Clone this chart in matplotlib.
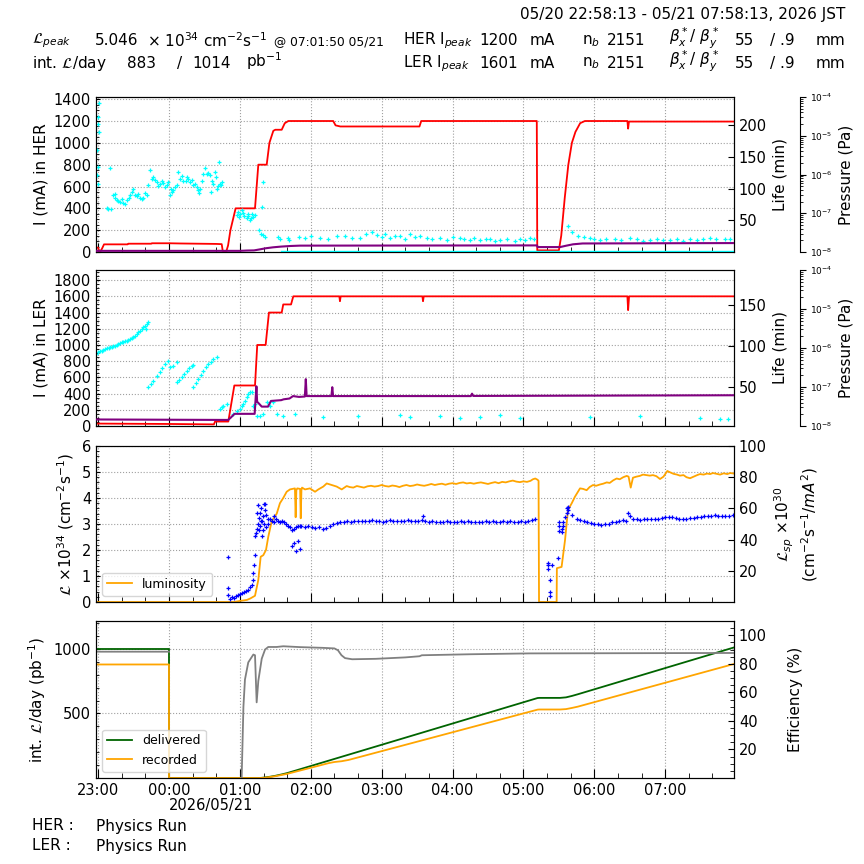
import numpy as np
import matplotlib
matplotlib.use("Agg")
import matplotlib.pyplot as plt
from matplotlib.ticker import MultipleLocator, AutoMinorLocator, FixedLocator
import matplotlib.transforms as mtransforms

# ---------------- time frame (minutes relative to 2026/05/21 00:00 JST) ----------------
T_START, T_END = -61.78, 478.22
HOUR_TICKS = [-1, 0, 1, 2, 3, 4, 5, 6, 7]
HOUR_LABELS = ["23:00", "00:00", "01:00", "02:00", "03:00", "04:00", "05:00", "06:00", "07:00"]
DATE_LABEL = "2026/05/21"

# ---------------- panel 1 : HER ----------------
HER_CUR = [(-61.78, 42), (-60.0, 40), (-59.0, 5), (-58.2, 2), (-56.5, 35), (-55.0, 70), (-35.0, 70),
           (-34.5, 76), (-15, 76), (-14.5, 80), (0, 80), (10, 78), (40, 74), (44.6, 72), (45.5, 10),
           (47, 5), (48.5, 5), (50, 60), (52, 200), (56.4, 400), (72.8, 400), (75.6, 800), (82.7, 800),
           (85, 1000), (88.3, 1110), (90, 1120), (95.4, 1120), (98, 1180), (101, 1200), (139, 1200),
           (141, 1160), (145, 1150), (212, 1150), (213.5, 1200), (311.3, 1200), (311.7, 15), (330, 15),
           (332, 150), (335, 500), (338, 800), (341, 1000), (344, 1100), (348, 1180), (352, 1200),
           (388, 1200), (388.6, 1130), (389.3, 1195), (478.22, 1195)]
HER_LIFE = [(-61.2, 121), (-60.7, 161), (-60.3, 108), (-60.3, 213), (-60.1, 135), (-59.8, 203),
            (-59.5, 190), (-59.0, 236), (-50.0, 132), (-52.7, 70), (-51.4, 68), (-49.1, 68),
            (-47.1, 90), (-45.7, 85), (-44.3, 82), (-41.5, 79), (-38.7, 78), (-35.8, 82), (-33.0, 90),
            (-31.6, 95), (-30.2, 100), (-28.8, 90), (-27.1, 88), (-24.5, 85), (-21.8, 86), (-18.9, 90),
            (-17.5, 106), (-16.1, 129), (-14.6, 116), (-13.3, 119), (-10.4, 111), (-7.6, 108), (-4.8, 109),
            (-1.9, 106), (-0.6, 110), (0.8, 90), (2.3, 95), (3.6, 98), (6.5, 106), (7.9, 127), (9.3, 116),
            (12.1, 113), (15.0, 119), (17.8, 111), (19.2, 114), (20.6, 106), (23.4, 103), (25.6, 93),
            (27.7, 113), (29.0, 124), (30.5, 132), (31.9, 124), (33.3, 125), (34.7, 121), (35.3, 95),
            (37.5, 108), (38.9, 126), (40.4, 100), (41.7, 104), (42.6, 143), (43.2, 108), (44.6, 111),
            (-46, 92), (-43, 80), (-40, 84), (-37, 76), (-34, 86), (-26, 92), (-23, 83), (-20, 94),
            (-12, 114), (-9, 105), (-6, 112), (-3, 102), (1.5, 100), (5, 102), (11, 120), (14, 112),
            (16.5, 116), (22, 108), (24.5, 98), (26.5, 100), (36.5, 112), (39.5, 118), (43.8, 106),
            (57.3, 58), (58.7, 64), (60.1, 60), (61.5, 66), (62.9, 62), (65.8, 53), (67.1, 57), (68.6, 50),
            (70.0, 60), (71.4, 56), (72.8, 58), (76.4, 35), (77.6, 29), (78.5, 71), (79.8, 111), (79.8, 27),
            (81.3, 24), (92.5, 24), (93.9, 20), (101.0, 21.6), (101.8, 19), (59.5, 55), (63.5, 57),
            (66.5, 60), (69, 54),
            (110, 24), (115, 22), (120, 25), (127.8, 22), (135, 20), (142, 26), (149.0, 25), (155, 22),
            (161.7, 22), (167, 28), (171.8, 31.5), (176, 27), (180, 24), (183, 29), (187.1, 22), (191, 26),
            (195.5, 25), (200, 21), (204.0, 28), (208, 24), (212.4, 25), (218, 22), (223, 20), (229.4, 22),
            (235, 19), (240, 23), (246.3, 22), (250, 20), (254.8, 19), (258, 22), (263.2, 19), (268, 21),
            (271.7, 20.5), (276, 18), (280.2, 19), (286, 21), (292.9, 17), (297, 20), (301.3, 19),
            (305.6, 22), (309, 20), (337.7, 41), (341.1, 31.5), (346.2, 25), (351, 23), (356.3, 22),
            (360, 20), (364.8, 19), (370, 21), (377.5, 20.5), (383, 19), (390.2, 22), (396, 20), (401, 18),
            (407.1, 19), (413, 21), (418, 19), (424.0, 19), (430, 20), (435, 18), (441.0, 20.5), (447, 19),
            (452, 21), (457.9, 22), (463, 20), (470.6, 20.5), (475, 21)]
HER_LIFE_FLOOR = [(95, 1.5), (478.22, 1.5)]
HER_PRES = [(-61.78, 1.07e-8), (60, 1.07e-8), (66, 1.09e-8), (72, 1.10e-8), (77, 1.17e-8), (82, 1.25e-8),
            (88, 1.32e-8), (95, 1.38e-8), (103, 1.43e-8), (111, 1.46e-8), (311.5, 1.48e-8), (312, 1.34e-8),
            (331, 1.34e-8), (336, 1.45e-8), (342, 1.58e-8), (350, 1.66e-8), (478.22, 1.70e-8)]

# ---------------- panel 2 : LER ----------------
LER_CUR = [(-61.78, 30), (0, 25), (38, 20), (39, 55), (50.2, 55), (55.3, 500), (72.8, 500), (74.7, 1000),
           (81.8, 1000), (84.6, 1400), (95.4, 1400), (96.7, 1500), (103.3, 1500), (105.2, 1600),
           (144.2, 1600), (144.7, 1540), (145.3, 1600), (214.5, 1600), (215, 1540), (215.6, 1600),
           (388, 1600), (388.6, 1430), (389.4, 1600), (478.22, 1600)]
LER_LIFE = [(-61.8, 90.3), (-58.4, 94.3), (-55.6, 95.5), (-52.7, 97.2), (-49.9, 98.5), (-47.1, 99.6),
            (-44.3, 101.5), (-41.5, 103.6), (-38.7, 105), (-35.8, 106.4), (-33.0, 108.5), (-30.2, 110.5),
            (-27.3, 114.5), (-24.5, 118.5), (-21.8, 122.6), (-19.5, 120.6), (-17.5, 128.7),
            (-60.5, 92.5), (-57, 93.5), (-54, 96.5), (-51, 98), (-48.5, 99), (-46, 100.5), (-43, 102),
            (-40, 104.5), (-37, 105.5), (-34.5, 107.5), (-31.5, 109.5), (-29, 112), (-26, 116.5),
            (-23, 120), (-20.5, 124), (-18.5, 126),
            (-17.5, 50), (-15.4, 54), (-13.3, 58), (-10.4, 63), (-7.6, 68), (-5.5, 73), (-3.4, 78),
            (-0.6, 82), (0.8, 74), (3.6, 76), (6.5, 80),
            (6.5, 56), (8.5, 59), (10.7, 62), (12.7, 66), (15.0, 70), (16.9, 73), (19.2, 76), (20.6, 77),
            (20.6, 50), (22.7, 55), (24.8, 60), (26.9, 65), (29.0, 70), (31.1, 74), (33.3, 78), (35.4, 81),
            (37.5, 84), (40.4, 86),
            (43.2, 23.7), (44.6, 25.5), (45.9, 27.7), (48.8, 29.4),
            (54.4, 17.7), (57.3, 21.7), (60.1, 23.7), (61.5, 27.7), (62.9, 30), (64.3, 33.8), (65.8, 38),
            (67.1, 41.9), (68.6, 43.9), (70.0, 44), (71.4, 27.7), (72.8, 30), (74.2, 15.6), (77.0, 15.6),
            (79.8, 17.7), (82.7, 31.8), (85.5, 27.7), (88.3, 32.6), (91.2, 17.7), (96.7, 15.6),
            (106.6, 17.7), (130, 14), (160, 15), (195.5, 16.5), (204.0, 14), (229.4, 15.2), (246.3, 12.8),
            (263.2, 14), (280.2, 16.5), (297.1, 12.8), (356.3, 14), (398.7, 15.2), (449.4, 12.8),
            (466.4, 11.6), (473.1, 11.6)]
LER_PRES = [(-61.78, 1.47e-8), (50, 1.43e-8), (52, 1.61e-8), (55.5, 2.05e-8), (72.5, 2.05e-8),
            (74.0, 1.04e-7), (74.6, 4.19e-8), (76, 3.80e-8), (78.5, 3.14e-8), (83.8, 3.14e-8),
            (86.3, 4.39e-8), (95, 4.60e-8), (97, 4.83e-8), (102, 5.07e-8), (105, 5.85e-8), (110, 5.57e-8),
            (115, 5.70e-8), (115.8, 1.59e-7), (116.5, 5.85e-8), (137.5, 5.85e-8), (138.2, 9.89e-8),
            (138.9, 5.85e-8), (255.5, 5.85e-8), (256.5, 6.75e-8), (257.5, 5.9e-8), (478.22, 6.14e-8)]

# ---------------- panel 3 : luminosity ----------------
LUMI = [(-61.78, 0), (55, 0), (60, 0.04), (66, 0.08), (69, 0.14), (72.8, 0.24), (75.6, 0.85), (77.6, 1.74),
        (79.8, 1.8), (82.1, 2.0), (84.0, 2.5), (86.9, 3.1), (89, 3.25), (91.2, 3.4), (93.9, 3.8),
        (96.7, 4.0), (99.6, 4.24), (102.4, 4.33), (106.6, 4.37), (107.2, 3.26), (107.8, 4.3),
        (108.6, 4.37), (111.0, 4.35), (111.5, 3.22), (112.1, 4.3), (112.6, 4.4), (115.1, 4.33),
        (119.3, 4.37), (123.6, 4.24), (126.4, 4.33), (130.6, 4.44), (133.5, 4.56), (136.3, 4.52),
        (141.9, 4.44), (146.2, 4.33), (150.4, 4.46), (153, 4.42), (156, 4.40), (159, 4.46), (162, 4.43),
        (165, 4.40), (168, 4.45), (171, 4.47), (174, 4.44), (177, 4.46), (180, 4.50), (183, 4.46),
        (186, 4.44), (189, 4.48), (192, 4.46), (195, 4.42), (198, 4.47), (201, 4.50), (204, 4.46),
        (207, 4.48), (210, 4.52), (213, 4.49), (216, 4.47), (219, 4.50), (222, 4.54), (225, 4.50),
        (228, 4.53), (231, 4.55), (234, 4.51), (237, 4.55), (240, 4.57), (243, 4.54), (246, 4.58),
        (249, 4.60), (252, 4.56), (255, 4.58), (258, 4.55), (261, 4.58), (264, 4.60), (267, 4.57),
        (270, 4.54), (273, 4.58), (276, 4.61), (279, 4.57), (282, 4.62), (285, 4.60), (288, 4.64),
        (291, 4.67), (294, 4.63), (297, 4.61), (300, 4.64), (303, 4.62), (306, 4.66), (308, 4.72),
        (310, 4.75), (312, 4.70), (312.8, 4.66), (313.2, 0), (328.1, 0), (328.3, 1.3), (332.3, 1.35),
        (335.2, 2.38), (337.7, 3.54), (340.9, 3.8), (343.6, 4.05), (347.9, 4.37), (350.5, 4.35),
        (353.5, 4.30), (356, 4.42), (358.9, 4.5), (361.5, 4.47), (364.8, 4.52), (367.5, 4.55),
        (370.5, 4.6), (373, 4.58), (376, 4.68), (378.9, 4.75), (381.5, 4.72), (384.5, 4.80),
        (387.4, 4.85), (389, 4.82), (390.8, 4.40), (392.7, 4.78), (395.5, 4.82), (398.5, 4.85),
        (401.2, 4.9), (404, 4.88), (407, 4.86), (409.6, 4.88), (412.5, 4.84), (415.6, 4.73),
        (418.5, 4.82), (421.8, 5.04), (424, 4.99), (427, 4.93), (430, 4.90), (432.5, 4.86), (435.5, 4.88),
        (438, 4.80), (441, 4.76), (444, 4.82), (447, 4.88), (449.4, 4.92), (452.5, 4.90), (455.5, 4.94),
        (458, 4.92), (460.4, 4.96), (463.5, 4.93), (466.5, 4.90), (469.5, 4.95), (472.5, 4.92),
        (475, 4.96), (478.2, 4.94)]
LSP = [(50.2, 29), (50.2, 9), (50.2, 4.5), (51.6, 2), (53.3, 3), (55.0, 2.5), (56.7, 4), (58.4, 4.5),
       (60.1, 5), (61.8, 6), (63.5, 6.5), (65.2, 7), (66.9, 8), (68.6, 9.5), (70.3, 11), (71.1, 14),
       (71.1, 18.6), (71.9, 24), (72.8, 30), (72.8, 42), (73.6, 44), (74.5, 47), (74.5, 57), (75.3, 50),
       (75.3, 62), (76.2, 54), (76.2, 46), (77.0, 57), (77.0, 49), (77.9, 60), (77.9, 52), (78.7, 52),
       (78.7, 42), (79.6, 46), (79.6, 55), (80.4, 50), (80.4, 63), (81.3, 63), (81.3, 59), (82.1, 48),
       (82.1, 56), (83.8, 50), (83.8, 53), (85.5, 53), (87.2, 52), (88.9, 51), (88.9, 55), (90.6, 53),
       (92.2, 52), (93.9, 51), (95.6, 52), (97.3, 51), (99.0, 50), (100.7, 49), (102.4, 48), (104.1, 46),
       (104.1, 36), (105.8, 47), (105.8, 38), (107.5, 48), (107.5, 33), (109.2, 49), (109.2, 39),
       (110.9, 49), (110.9, 34),
       (112, 48.5), (115, 48.2), (118, 48.6), (121, 48.0), (124, 47.6), (127, 47.8), (130, 46.6),
       (133, 47.2), (136, 48.5), (139, 49.8), (142, 50.8), (145, 51.5), (148, 51.2), (151, 51.9),
       (154, 51.6), (157, 52.0), (160, 51.7), (163, 52.2), (166, 51.8), (169, 52.0), (172, 52.3),
       (175, 51.9), (178, 52.1), (181, 51.6), (184, 52.0), (187, 52.4), (190, 51.8), (193, 52.1),
       (196, 51.7), (199, 52.0), (202, 52.3), (205, 51.9), (208, 52.2), (211, 51.8), (214, 52.4),
       (215, 55.0), (217, 52.0), (220, 51.4), (223, 51.7), (226, 51.2), (229, 51.6), (232, 51.3),
       (235, 51.8), (238, 51.5), (241, 51.2), (244, 51.6), (247, 51.9), (250, 51.4), (253, 51.7),
       (256, 51.3), (259, 51.6), (262, 51.2), (265, 51.5), (268, 51.8), (271, 51.4), (274, 51.7),
       (277, 51.3), (280, 51.6), (283, 51.9), (286, 51.5), (289, 51.8), (292, 51.4), (295, 51.6),
       (298, 51.9), (301, 51.5), (304, 51.8), (307, 52.5), (310, 53.0),
       (321.0, 25), (321.0, 23.8), (321.0, 21), (322.5, 14), (322.5, 6.6), (322.5, 3.8), (323.9, 24),
       (329.5, 28), (330.3, 51.5), (330.3, 48.6), (330.3, 45.8), (332.4, 46.8), (332.4, 45),
       (333.7, 48.6), (333.7, 51.5), (335.2, 54.2), (336.6, 60), (336.6, 57), (338.0, 61), (338.0, 59),
       (340.8, 55.6), (345.1, 53.4),
       (348, 52.8), (351, 52.0), (354, 51.4), (357, 50.8), (360, 50.2), (363, 49.8), (366, 49.6),
       (369, 50.0), (372, 50.3), (375, 51.0), (378, 51.6), (381, 52.0), (384, 52.6), (387, 52.0),
       (388.5, 56.8), (390, 55), (393, 53.0), (396, 53.2), (399, 52.8), (402, 53.0), (405, 53.3),
       (408, 52.9), (411, 53.4), (414, 53.1), (417, 53.6), (420, 54.2), (423, 54.8), (426, 54.4),
       (429, 53.9), (432, 53.2), (435, 53.0), (438, 53.4), (441, 53.6), (444, 54.0), (447, 54.4),
       (450, 54.8), (453, 55.0), (456, 55.4), (459, 55.2), (462, 55.6), (465, 55.1), (468, 55.4),
       (471, 55.0), (474, 55.3), (477, 55.5)]

# ---------------- panel 4 : integrated luminosity ----------------
DELIVERED = [(-61.78, 1000), (0, 1000), (0, 0), (75, 0), (78, 1), (81, 4), (85, 9), (90, 17), (95, 27),
             (100, 38), (312, 620), (313.5, 621), (331, 621), (336, 625), (341, 636), (346, 649),
             (478.22, 1012)]
RECORDED = [(-61.78, 880), (0, 880), (0, 0), (76, 0), (80, 1), (85, 7), (90, 14), (95, 23), (100, 32),
            (135, 115), (140, 124), (146, 130), (152, 140), (312, 530), (313.5, 531), (331, 531),
            (336, 534), (341, 543), (346, 553), (478.22, 884)]
# efficiency: previous day value, then (after a gap) the new day's curve
EFFICIENCY = [(-61.78, 88.5), (0, 88.5), (0.5, np.nan), (61.5, 0), (63, 50), (64.3, 69), (67.1, 81),
              (71.4, 86.5), (72.8, 86), (74.2, 53), (75.6, 68), (78.5, 83.6), (81.3, 90), (84, 91.8),
              (91, 91.8), (96.7, 92.3), (111, 91.7), (130, 91.2), (140, 90.8), (143, 89.5), (146, 86),
              (149, 84), (155, 83.2), (175, 83.5), (200, 84.5), (212, 85.3), (214, 86.0), (255, 86.7),
              (305, 87.3), (478.22, 87.6)]

# ---------------- header / footer text ----------------
TIME_RANGE = "05/20 22:58:13 - 05/21 07:58:13, 2026 JST"
L_PEAK, L_PEAK_TIME = "5.046", "@ 07:01:50 05/21"
INT_REC, INT_DEL = "883", "1014"
HER_IPEAK, LER_IPEAK = "1200", "1601"
NB_HER, NB_LER = "2151", "2151"
BETA_X, BETA_Y = "55", ".9"
HER_STATE, LER_STATE = "Physics Run", "Physics Run"


def xy(series):
    t, v = zip(*series)
    return np.asarray(t, float) / 60.0, np.asarray(v, float)


W = H = 864
fig = plt.figure(figsize=(8.64, 8.64), dpi=100)


def rect(top, bottom):
    return [96 / W, 1 - bottom / H, 638 / W, (bottom - top) / H]


GRID = dict(ls=":", color="#a0a0a0", lw=0.8)


def style_main(ax, labels=False):
    ax.set_xlim(T_START / 60, T_END / 60)
    ax.xaxis.set_major_locator(FixedLocator(HOUR_TICKS))
    ax.xaxis.set_minor_locator(MultipleLocator(1 / 3))
    ax.tick_params(axis="x", which="major", direction="in", length=6.5, top=False, labelsize=10.5)
    ax.tick_params(axis="x", which="minor", direction="in", length=3.5, top=False)
    ax.tick_params(axis="y", which="major", direction="in", length=3, labelsize=10.5, right=False)
    ax.tick_params(axis="y", which="minor", direction="in", length=2, right=False)
    ax.grid(True, which="major", **GRID)
    if labels:
        ax.set_xticklabels(HOUR_LABELS)
    else:
        ax.tick_params(axis="x", labelbottom=False)


def add_right(ax, ylim, ticks, label, minor=None, labelpad=4):
    r = ax.twinx()
    r.set_ylim(*ylim)
    r.yaxis.set_major_locator(FixedLocator(ticks))
    if minor:
        r.yaxis.set_minor_locator(MultipleLocator(minor))
    r.tick_params(axis="y", which="major", direction="in", length=4.5, labelsize=10.5)
    r.tick_params(axis="y", which="minor", direction="in", length=3)
    r.set_ylabel(label, fontsize=11, labelpad=labelpad)
    return r


def add_pressure(ax):
    p = ax.twinx()
    p.spines["right"].set_position(("axes", 704 / 638))
    for s in ("top", "bottom", "left"):
        p.spines[s].set_visible(False)
    p.set_yscale("log")
    p.set_ylim(1e-8, 1e-4)
    p.tick_params(axis="y", which="major", direction="out", length=4, labelsize=6.5)
    p.tick_params(axis="y", which="minor", direction="out", length=2)
    p.set_ylabel("Pressure (Pa)", fontsize=11)
    return p


# ---------- panel 1 ----------
ax1 = fig.add_axes(rect(97, 252))
style_main(ax1)
ax1.set_ylim(0, 1420)
ax1.yaxis.set_major_locator(MultipleLocator(200))
ax1.yaxis.set_minor_locator(AutoMinorLocator(4))
ax1.set_ylabel("I (mA) in HER", fontsize=11)
ax1.plot(*xy(HER_CUR), color="red", lw=1.3)
ax1l = add_right(ax1, (0, 245), [50, 100, 150, 200], "Life (min)")
ax1l.plot(*xy(HER_LIFE), ls="none", marker="+", ms=3, mew=0.9, color="cyan")
ax1l.plot(*xy(HER_LIFE_FLOOR), color="cyan", lw=1)
ax1p = add_pressure(ax1)
ax1p.plot(*xy(HER_PRES), color="purple", lw=1.5)

# ---------- panel 2 ----------
ax2 = fig.add_axes(rect(270, 426))
style_main(ax2)
ax2.set_ylim(0, 1925)
ax2.yaxis.set_major_locator(MultipleLocator(200))
ax2.yaxis.set_minor_locator(AutoMinorLocator(4))
ax2.set_ylabel("I (mA) in LER", fontsize=11)
ax2.plot(*xy(LER_CUR), color="red", lw=1.3)
ax2l = add_right(ax2, (3, 192), [50, 100, 150], "Life (min)")
ax2l.plot(*xy(LER_LIFE), ls="none", marker="+", ms=3, mew=0.9, color="cyan")
ax2p = add_pressure(ax2)
ax2p.plot(*xy(LER_PRES), color="purple", lw=1.5)

# ---------- panel 3 ----------
ax3 = fig.add_axes(rect(446, 602))
style_main(ax3)
ax3.set_ylim(0, 6)
ax3.yaxis.set_major_locator(MultipleLocator(1))
ax3.yaxis.set_minor_locator(AutoMinorLocator(5))
ax3.set_ylabel(r"$\mathcal{L}$ $\times 10^{34}$ (cm$^{-2}$s$^{-1}$)", fontsize=11)
ax3.plot(*xy(LUMI), color="orange", lw=1.3, label="luminosity")
ax3.legend(loc="lower left", fontsize=9)
ax3r = add_right(ax3, (0, 100), [20, 40, 60, 80, 100],
                 r"$\mathcal{L}_{sp}$ $\times 10^{30}$" + "\n" + r"(cm$^{-2}$s$^{-1}$/$mA^2$)")
ax3r.plot(*xy(LSP), ls="none", marker="+", ms=2.8, mew=0.9, color="blue")

# ---------- panel 4 ----------
ax4 = fig.add_axes(rect(621, 778))
style_main(ax4, labels=True)
ax4.set_ylim(0, 1217)
ax4.yaxis.set_major_locator(FixedLocator([500, 1000]))
ax4.yaxis.set_minor_locator(MultipleLocator(100))
ax4.set_ylabel(r"int. $\mathcal{L}$/day (pb$^{-1}$)", fontsize=11)
ax4.plot(*xy(DELIVERED), color="darkgreen", lw=1.3, label="delivered")
ax4.plot(*xy(RECORDED), color="orange", lw=1.3, label="recorded")
ax4.legend(loc="lower left", fontsize=9)
ax4r = add_right(ax4, (0, 110), [20, 40, 60, 80, 100], "Efficiency (%)", minor=5, labelpad=15)
ax4r.plot(*xy(EFFICIENCY), color="gray", lw=1.3)
trans = mtransforms.blended_transform_factory(ax4.transData, ax4.transAxes)
ax4.text(0, -0.175, DATE_LABEL, transform=trans, ha="left", va="center", fontsize=10.5)


# ---------- header & footer ----------
def ftext(x, y, s, size=11, ha="left"):
    fig.text(x / W, 1 - y / H, s, fontsize=size, ha=ha, va="center")


ftext(845, 15, TIME_RANGE, ha="right")
r1, r2 = 40.7, 63.3
ftext(32, r1, r"$\mathcal{L}_{peak}$")
ftext(95, r1, L_PEAK)
ftext(147, r1, r"$\times$ 10$^{34}$ cm$^{-2}$s$^{-1}$")
ftext(274, r1 + 1, L_PEAK_TIME, size=8.8)
ftext(32, r2, r"int. $\mathcal{L}$/day")
ftext(127, r2, INT_REC)
ftext(177, r2, "/")
ftext(192, r2, INT_DEL)
ftext(246, r2 - 2, r"pb$^{-1}$")
for yy, ring, ip, nb in ((r1, "HER", HER_IPEAK, NB_HER), (r2, "LER", LER_IPEAK, NB_LER)):
    ftext(403, yy, ring + r" I$_{peak}$")
    ftext(479, yy, ip)
    ftext(530, yy, "mA")
    ftext(582, yy, r"n$_b$")
    ftext(607, yy, nb)
    ftext(669, yy - 2, r"$\beta_x^*$/ $\beta_y^*$")
    ftext(735, yy, BETA_X)
    ftext(770, yy, "/ " + BETA_Y)
    ftext(816, yy, "mm")

ftext(32, 826, "HER :")
ftext(96, 826, HER_STATE)
ftext(32, 846, "LER :")
ftext(96, 846, LER_STATE)

fig.savefig("out.png", dpi=100)
